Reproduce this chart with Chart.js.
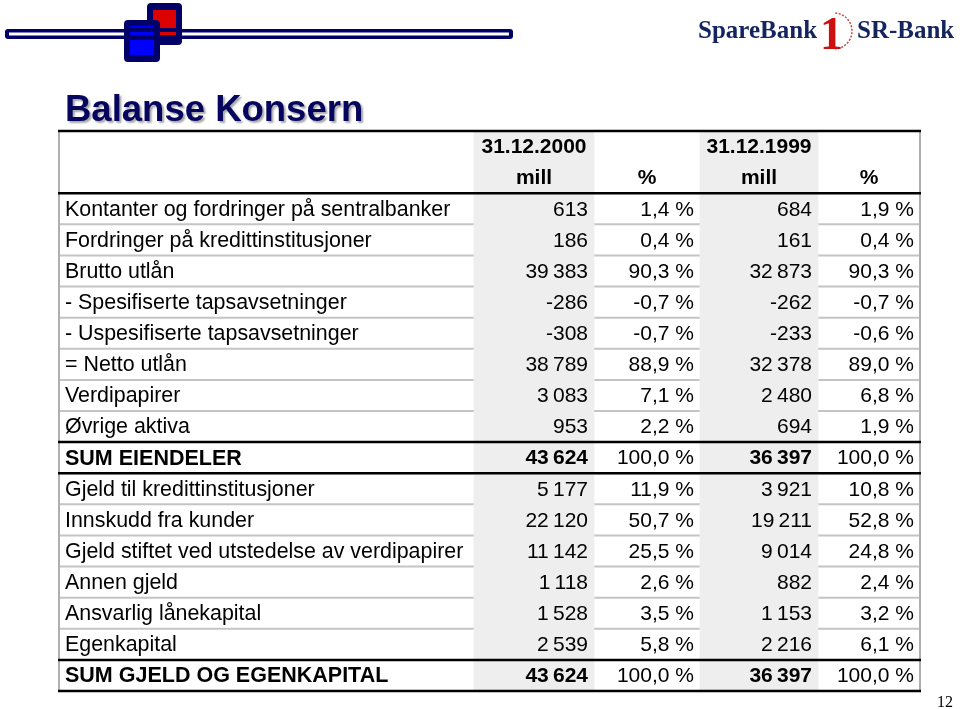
<!DOCTYPE html>
<html>
<head>
<meta charset="utf-8">
<script src="https://cdn.jsdelivr.net/npm/chart.js@4/dist/chart.umd.min.js"></script>
<style>
  html, body { margin: 0; padding: 0; background: #fff; }
  #tabell { display: block; }
</style>
</head>
<body>
<canvas id="tabell" width="960" height="709"></canvas>
<script>
// Data fra tabellen
const linjer = [
  "Kontanter og fordringer på sentralbanker",
  "Fordringer på kredittinstitusjoner",
  "Brutto utlån",
  "- Spesifiserte tapsavsetninger",
  "- Uspesifiserte tapsavsetninger",
  "= Netto utlån",
  "Verdipapirer",
  "Øvrige aktiva",
  "SUM EIENDELER",
  "Gjeld til kredittinstitusjoner",
  "Innskudd fra kunder",
  "Gjeld stiftet ved utstedelse av verdipapirer",
  "Annen gjeld",
  "Ansvarlig lånekapital",
  "Egenkapital",
  "SUM GJELD OG EGENKAPITAL"
];
const mill2000 = [613, 186, 39383, -286, -308, 38789, 3083, 953, 43624, 5177, 22120, 11142, 1118, 1528, 2539, 43624];
const pst2000 = [1.4, 0.4, 90.3, -0.7, -0.7, 88.9, 7.1, 2.2, 100.0, 11.9, 50.7, 25.5, 2.6, 3.5, 5.8, 100.0];
const mill1999 = [684, 161, 32873, -262, -233, 32378, 2480, 694, 36397, 3921, 19211, 9014, 882, 1153, 2216, 36397];
const pst1999 = [1.9, 0.4, 90.3, -0.7, -0.6, 89.0, 6.8, 1.9, 100.0, 10.8, 52.8, 24.8, 2.4, 3.2, 6.1, 100.0];
const sumLinjer = ["SUM EIENDELER", "SUM GJELD OG EGENKAPITAL"];
const overskrift1 = ["", "31.12.2000", "", "31.12.1999", ""];
const overskrift2 = ["", "mill", "%", "mill", "%"];

// Layout: kolonnegrenser i x-enheter (tabellbredde 861)
const kolGrenser = [0, 415, 535, 641, 759, 861];
const FONT = '"Liberation Sans", Arial, sans-serif';

// Radnøkler for kategoriaksen: to overskriftsrader + datarader
const radNokler = ["h1", "h2"].concat(linjer);

function formaterMill(v) {
  const s = Math.abs(v).toString().replace(/\B(?=(\d{3})+(?!\d))/g, "\u2009");
  return (v < 0 ? "-" : "") + s;
}
function formaterPst(v) {
  return v.toFixed(1).replace(".", ",") + " %";
}

// Skyggelagte kolonner (mill) som flytende stolper
const skygge1 = radNokler.map(() => [kolGrenser[1], kolGrenser[2]]);
const skygge2 = radNokler.map(() => [kolGrenser[3], kolGrenser[4]]);

function radGrense(y, i) {
  return (y.getPixelForValue(i) + y.getPixelForValue(i + 1)) / 2;
}

// Tegner rutenett (grå linjer) før stolpene, tekst og tykke linjer etter
const rutenett = {
  id: "rutenett",
  beforeDatasetsDraw(chart) {
    const { ctx, chartArea: a, scales: { y } } = chart;
    ctx.save();
    ctx.strokeStyle = "#c4c4c4";
    ctx.lineWidth = 2;
    for (let i = 2; i < radNokler.length - 1; i++) {
      const yy = radGrense(y, i);
      ctx.beginPath();
      ctx.moveTo(a.left, yy);
      ctx.lineTo(a.right, yy);
      ctx.stroke();
    }
    ctx.restore();
  },
  afterDatasetsDraw(chart) {
    const { ctx, chartArea: a, scales: { x, y } } = chart;
    ctx.save();
    // ytterkanter
    ctx.strokeStyle = "#b0b0b0";
    ctx.lineWidth = 2;
    ctx.beginPath();
    ctx.moveTo(a.left, a.top); ctx.lineTo(a.left, a.bottom);
    ctx.moveTo(a.right, a.top); ctx.lineTo(a.right, a.bottom);
    ctx.stroke();

    // tykke svarte linjer
    const tykke = [a.top, radGrense(y, 1), a.bottom];
    sumLinjer.forEach((n) => {
      const i = radNokler.indexOf(n);
      tykke.push(radGrense(y, i - 1));
      if (i < radNokler.length - 1) tykke.push(radGrense(y, i));
    });
    ctx.strokeStyle = "#000";
    ctx.lineWidth = 2.5;
    tykke.forEach((yy) => {
      ctx.beginPath();
      ctx.moveTo(a.left - 1, yy);
      ctx.lineTo(a.right + 1, yy);
      ctx.stroke();
    });

    // overskrifter
    ctx.fillStyle = "#000";
    ctx.textBaseline = "middle";
    ctx.textAlign = "center";
    ctx.font = "bold 21px " + FONT;
    [overskrift1, overskrift2].forEach((rad, r) => {
      const yy = y.getPixelForValue(r);
      rad.forEach((t, k) => {
        if (!t) return;
        const xx = (x.getPixelForValue(kolGrenser[k]) + x.getPixelForValue(kolGrenser[k + 1])) / 2;
        ctx.fillText(t, xx, yy + 1);
      });
    });

    // datarader
    linjer.forEach((navn, r) => {
      const yy = y.getPixelForValue(r + 2) + 1;
      const fet = sumLinjer.includes(navn);
      ctx.textAlign = "left";
      ctx.font = (fet ? "bold 21.5px " : "21.4px ") + FONT;
      ctx.fillText(navn, a.left + 6, yy);
      const celler = [formaterMill(mill2000[r]), formaterPst(pst2000[r]), formaterMill(mill1999[r]), formaterPst(pst1999[r])];
      ctx.textAlign = "right";
      celler.forEach((t, k) => {
        ctx.font = (fet && k % 2 === 0 ? "bold " : "") + "21px " + FONT;
        ctx.fillText(t, x.getPixelForValue(kolGrenser[k + 2]) - 6, yy);
      });
    });
    ctx.restore();
  }
};

// Side-dekor: tittel, logo, sidetall
const sidedekor = {
  id: "sidedekor",
  beforeDraw(chart) {
    const ctx = chart.ctx;
    ctx.save();
    const navy = "#000066";
    // stripe
    ctx.fillStyle = navy;
    ctx.beginPath(); ctx.roundRect(5, 29, 508, 10, 3); ctx.fill();
    ctx.fillStyle = "#fff";
    ctx.fillRect(9, 32.5, 500, 3);
    // rød firkant
    ctx.fillStyle = navy;
    ctx.beginPath(); ctx.roundRect(147, 3, 35, 42, 4); ctx.fill();
    ctx.fillStyle = "#dd0000";
    ctx.fillRect(153, 10, 23, 18);
    ctx.fillRect(160, 32, 16, 3);
    // blå firkant
    ctx.fillStyle = navy;
    ctx.beginPath(); ctx.roundRect(124, 20, 36, 42, 4); ctx.fill();
    ctx.fillStyle = "#0000ff";
    ctx.fillRect(130, 40, 24, 15);
    ctx.fillRect(130, 26, 24, 1.5);
    ctx.fillRect(130, 32, 24, 3);

    // logo
    ctx.fillStyle = "#13245e";
    ctx.textBaseline = "alphabetic";
    ctx.font = 'bold 25px "Liberation Serif", "Times New Roman", serif';
    ctx.save();
    ctx.translate(698, 38);
    ctx.scale(1, 1.05);
    ctx.fillText("SpareBank", 0, 0);
    ctx.restore();
    ctx.save();
    ctx.translate(857, 38);
    ctx.scale(1, 1.05);
    ctx.fillText("SR-Bank", 0, 0);
    ctx.restore();
    ctx.strokeStyle = "#d04040";
    ctx.lineWidth = 1.5;
    ctx.setLineDash([2, 1.5]);
    ctx.beginPath();
    ctx.arc(834, 31, 18, -1.5, 1.5);
    ctx.stroke();
    ctx.setLineDash([]);
    ctx.fillStyle = "#cc1111";
    ctx.font = 'bold 46px "Liberation Serif", serif';
    ctx.fillText("1", 820, 49);

    // tittel
    ctx.font = "bold 36.5px " + FONT;
    ctx.shadowColor = "rgba(0,0,0,0.35)";
    ctx.shadowOffsetX = 2;
    ctx.shadowOffsetY = 2;
    ctx.shadowBlur = 2;
    ctx.fillStyle = "#06065e";
    ctx.fillText("Balanse Konsern", 65, 121);
    ctx.shadowColor = "transparent";

    // sidetall
    ctx.fillStyle = "#000";
    ctx.font = '16px "Liberation Serif", serif';
    ctx.fillText("12", 937, 707);
    ctx.restore();
  }
};

new Chart(document.getElementById("tabell").getContext("2d"), {
  type: "bar",
  data: {
    labels: radNokler,
    datasets: [
      { data: skygge1, backgroundColor: "#eeeeee", borderWidth: 0, barPercentage: 1, categoryPercentage: 1, grouped: false },
      { data: skygge2, backgroundColor: "#eeeeee", borderWidth: 0, barPercentage: 1, categoryPercentage: 1, grouped: false }
    ]
  },
  options: {
    indexAxis: "y",
    responsive: false,
    animation: false,
    devicePixelRatio: 1,
    layout: { padding: { left: 59, top: 131, right: 40, bottom: 18 } },
    scales: {
      x: { type: "linear", min: 0, max: 861, display: false },
      y: { type: "category", display: false, offset: true }
    },
    plugins: { legend: { display: false }, tooltip: { enabled: false } }
  },
  plugins: [rutenett, sidedekor]
});
</script>
</body>
</html>
